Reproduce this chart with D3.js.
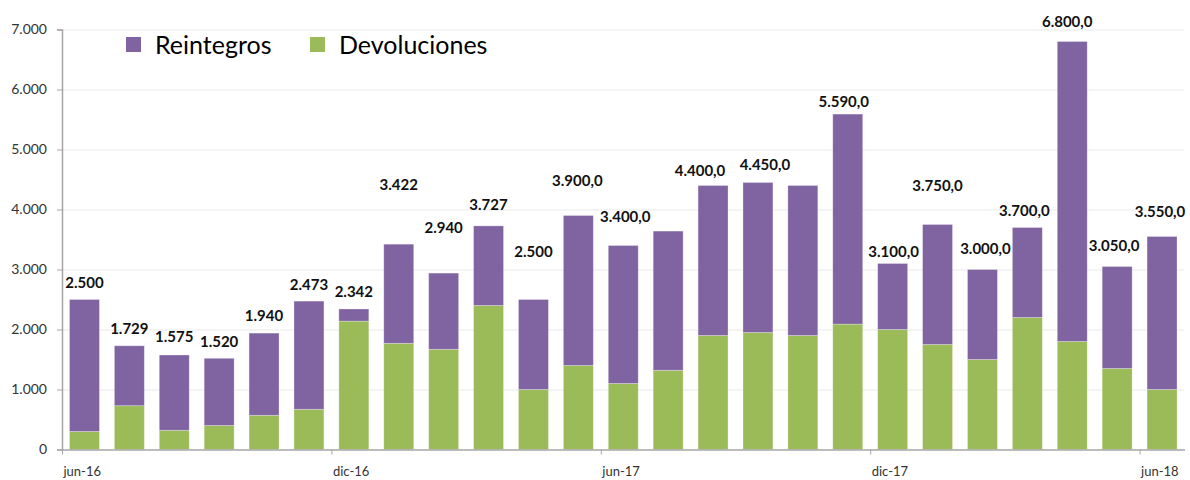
<!DOCTYPE html>
<html>
<head>
<meta charset="utf-8">
<script src="https://cdn.jsdelivr.net/npm/d3@7"></script>
<style>
  html, body { margin: 0; padding: 0; background: #fff; }
  .canvas-bar svg { display: block; }
</style>
</head>
<body>
<div class="canvas-bar"></div>
<script>
// data
const months = ['jun-16', 'jul-16', 'ago-16', 'sep-16', 'oct-16', 'nov-16', 'dic-16', 'ene-17', 'feb-17', 'mar-17',
  'abr-17', 'may-17', 'jun-17', 'jul-17', 'ago-17', 'sep-17', 'oct-17', 'nov-17', 'dic-17', 'ene-18', 'feb-18',
  'mar-18', 'abr-18', 'may-18', 'jun-18'];
const devoluciones = [300, 730, 320, 400, 570, 670, 2140, 1770, 1670, 2400, 1000, 1400, 1100, 1320, 1900, 1950, 1900,
  2090, 2000, 1750, 1500, 2200, 1800, 1350, 1000];
const reintegros = [2200, 999, 1255, 1120, 1370, 1803, 202, 1652, 1270, 1327, 1500, 2500, 2300, 2320, 2500, 2500, 2500,
  3500, 1100, 2000, 1500, 1500, 5000, 1700, 2550];
const totalLabels = ['2.500', '1.729', '1.575', '1.520', '1.940', '2.473', '2.342', '3.422', '2.940', '3.727', '2.500',
  '3.900,0', '3.400,0', null, '4.400,0', '4.450,0', null, '5.590,0', '3.100,0', '3.750,0', '3.000,0', '3.700,0',
  '6.800,0', '3.050,0', '3.550,0'];
const yTicks = [0, 1000, 2000, 3000, 4000, 5000, 6000, 7000];
const axisMonths = ['jun-16', 'dic-16', 'jun-17', 'dic-17', 'jun-18'];
const seriesNames = ['Reintegros', 'Devoluciones'];

// labels were dragged by hand in the original: lift above bar top / sideways nudge (px)
const labelLift = [17, 17, 18, 17, 18, 17, 17, 60, 46, 21, 48, 35, 29, 0, 15, 18, 0, 13, 12, 39, 21, 17, 20, 21, 25];
const labelNudge = [0, 0, 0, 0, 0, 0, 0, 0, 0, 0, 0, -1, 2, 0, -13, 7, 0, -4, 1, 0, 3, -3, -5, -3, -2];

const colors = { Reintegros: '#8064a2', Devoluciones: '#9bbb59' };
const font = 'Lato, "Open Sans", sans-serif';

const width = 1190;
const height = 480;
const margin = { top: 29.5, right: 5.5, bottom: 30.5, left: 62 };
const graphWidth = width - margin.left - margin.right;
const graphHeight = height - margin.top - margin.bottom;

const svg = d3
  .select('.canvas-bar')
  .append('svg')
  .attr('width', width)
  .attr('height', height)
  .style('font-family', font);

const graph = svg.append('g').attr('transform', `translate(${margin.left}, ${margin.top})`);

const x = d3.scaleBand().domain(months).range([0, graphWidth]).paddingInner(0.333).paddingOuter(0.1665);
const slot = d3.scaleLinear().domain([0, months.length]).range([0, graphWidth]);
const y = d3.scaleLinear().domain([0, 7000]).range([graphHeight, 0]);

const locale = d3.formatLocale({ decimal: ',', thousands: '.', grouping: [3], currency: ['', ''] });
const fmt = locale.format(',d');

// gridlines
graph
  .append('g')
  .selectAll('line')
  .data(yTicks.filter(d => d > 0))
  .enter()
  .append('line')
  .attr('x1', 0)
  .attr('x2', graphWidth)
  .attr('y1', d => Math.round(y(d)) + 0.5)
  .attr('y2', d => Math.round(y(d)) + 0.5)
  .attr('stroke', '#e9e9e9')
  .attr('stroke-width', 1);

// stacked bars
const rows = months.map((m, i) => ({ month: m, Devoluciones: devoluciones[i], Reintegros: reintegros[i] }));
const stack = d3.stack().keys(['Devoluciones', 'Reintegros']);
const layers = stack(rows);

graph
  .selectAll('g.layer')
  .data(layers)
  .enter()
  .append('g')
  .attr('class', 'layer')
  .attr('fill', d => colors[d.key])
  .selectAll('rect')
  .data(d => d)
  .enter()
  .append('rect')
  .attr('x', d => x(d.data.month))
  .attr('width', x.bandwidth())
  .attr('y', d => y(d[1]))
  .attr('height', d => y(d[0]) - y(d[1]))
  .attr('stroke', 'rgba(255,255,255,0.35)')
  .attr('stroke-width', 0.8);

// total labels
graph
  .append('g')
  .selectAll('text')
  .data(rows.map((r, i) => ({ ...r, label: totalLabels[i], i })).filter(d => d.label))
  .enter()
  .append('text')
  .attr('x', d => x(d.month) + x.bandwidth() / 2 + labelNudge[d.i])
  .attr('y', d => y(d.Devoluciones + d.Reintegros) - labelLift[d.i])
  .attr('dy', '0.36em')
  .attr('text-anchor', 'middle')
  .attr('font-size', '15px')
  .attr('font-weight', 'bold')
  .attr('fill', '#111')
  .text(d => d.label);

// y axis
const yAxis = d3.axisLeft(y).tickValues(yTicks).tickSize(5).tickPadding(10).tickFormat(d => fmt(d));
const yAxisGroup = graph.append('g').attr('class', 'y-axis').call(yAxis);
yAxisGroup.select('.domain').attr('stroke', '#a6a6a6').attr('stroke-width', 1.5);
yAxisGroup.selectAll('.tick line').attr('stroke', '#a6a6a6');
yAxisGroup.selectAll('text').attr('font-size', '14px').attr('font-family', font).attr('fill', '#333');

// x axis
const xAxis = d3
  .axisBottom(slot)
  .tickValues(axisMonths.map(m => months.indexOf(m)))
  .tickSize(5)
  .tickSizeOuter(0)
  .tickFormat(i => months[i]);
const xAxisGroup = graph.append('g').attr('class', 'x-axis').attr('transform', `translate(0, ${graphHeight})`).call(xAxis);
xAxisGroup.select('.domain').attr('stroke', '#a6a6a6').attr('stroke-width', 1.5);
xAxisGroup.selectAll('.tick line').attr('stroke', '#a6a6a6');
xAxisGroup
  .selectAll('text')
  .attr('font-size', '13px')
  .attr('font-family', font)
  .attr('fill', '#333')
  .attr('text-anchor', 'start')
  .attr('x', 1)
  .attr('y', 17);

// legend
const legend = svg.append('g').attr('transform', 'translate(126, 37)');
const legendItems = legend
  .selectAll('g')
  .data(seriesNames)
  .enter()
  .append('g')
  .attr('transform', (d, i) => `translate(${i * 184}, 0)`);
legendItems
  .append('rect')
  .attr('width', 15)
  .attr('height', 15)
  .attr('fill', d => colors[d]);
legendItems
  .append('text')
  .attr('x', 29)
  .attr('y', 7.5)
  .attr('dy', '0.36em')
  .attr('font-size', '25px')
  .attr('fill', '#000')
  .text(d => d);
</script>
</body>
</html>
